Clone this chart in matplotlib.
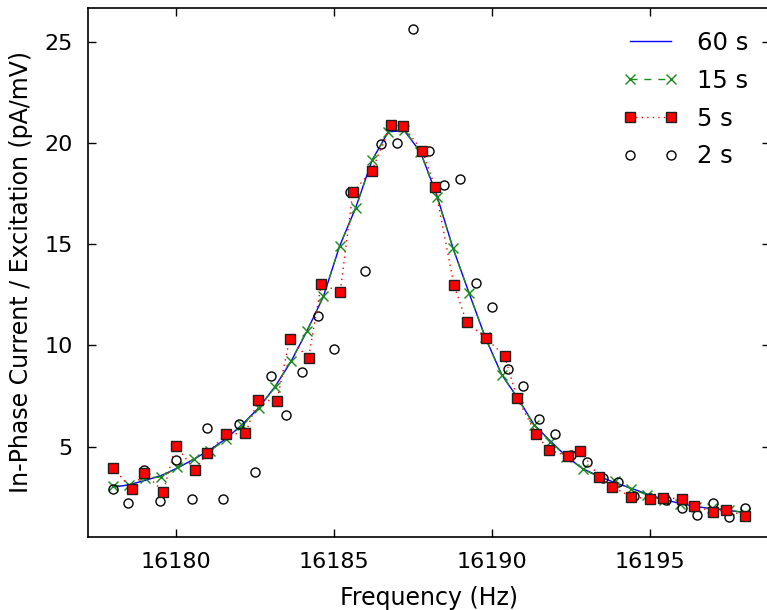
import matplotlib
matplotlib.use("Agg")
import matplotlib.pyplot as plt

# 60 s sweep (smooth line)
freq_60 = [16178.00, 16178.51, 16179.03, 16179.54, 16180.05, 16180.56, 16181.08, 16181.59,
           16182.10, 16182.62, 16183.13, 16183.64, 16184.15, 16184.67, 16185.18, 16185.69,
           16186.21, 16186.72, 16187.23, 16187.74, 16188.26, 16188.77, 16189.28, 16189.79,
           16190.31, 16190.82, 16191.33, 16191.85, 16192.36, 16192.87, 16193.38, 16193.90,
           16194.41, 16194.92, 16195.44, 16195.95, 16196.46, 16196.97, 16197.49, 16198.00]
current_60 = [3.00, 3.12, 3.34, 3.58, 3.95, 4.38, 4.85, 5.40,
              6.10, 6.92, 7.95, 9.20, 10.72, 12.42, 14.90, 16.80,
              19.15, 20.55, 20.60, 19.55, 17.40, 14.80, 12.58, 10.40,
              8.56, 7.40, 6.10, 5.28, 4.52, 3.92, 3.55, 3.22,
              2.95, 2.66, 2.40, 2.20, 2.05, 1.94, 1.85, 1.76]

# 15 s sweep
freq_15 = freq_60
current_15 = [3.06, 3.10, 3.47, 3.50, 4.00, 4.38, 4.80, 5.37,
              6.08, 6.90, 7.93, 9.22, 10.73, 12.42, 14.91, 16.77,
              19.15, 20.55, 20.65, 19.55, 17.34, 14.79, 12.58, 10.40,
              8.56, 7.40, 6.07, 5.25, 4.51, 3.92, 3.50, 3.30,
              2.92, 2.62, 2.35, 2.17, 2.05, 1.97, 1.90, 1.73]

# 5 s sweep
freq_5 = [16178.0, 16178.6, 16179.0, 16179.6, 16180.0, 16180.6, 16181.0, 16181.6,
          16182.2, 16182.6, 16183.2, 16183.6, 16184.2, 16184.6, 16185.2, 16185.6,
          16186.2, 16186.8, 16187.2, 16187.8, 16188.2, 16188.8, 16189.2, 16189.8,
          16190.4, 16190.8, 16191.4, 16191.8, 16192.4, 16192.8, 16193.4, 16193.8,
          16194.4, 16195.0, 16195.4, 16196.0, 16196.4, 16197.0, 16197.4, 16198.0]
current_5 = [3.96, 2.93, 3.72, 2.78, 5.05, 3.85, 4.70, 5.63,
             5.66, 7.30, 7.27, 10.32, 9.39, 13.02, 12.65, 17.57,
             18.62, 20.88, 20.83, 19.60, 17.83, 12.98, 11.15, 10.38,
             9.48, 7.39, 5.64, 4.84, 4.55, 4.79, 3.50, 3.03,
             2.54, 2.42, 2.48, 2.43, 2.09, 1.78, 1.89, 1.59]

# 2 s sweep
freq_2 = [16178.0, 16178.5, 16179.0, 16179.5, 16180.0, 16180.5, 16181.0, 16181.5,
          16182.0, 16182.5, 16183.0, 16183.5, 16184.0, 16184.5, 16185.0, 16185.5,
          16186.0, 16186.5, 16187.0, 16187.5, 16188.0, 16188.5, 16189.0, 16189.5,
          16190.0, 16190.5, 16191.0, 16191.5, 16192.0, 16192.5, 16193.0, 16193.5,
          16194.0, 16194.5, 16195.0, 16195.5, 16196.0, 16196.5, 16197.0, 16197.5,
          16198.0]
current_2 = [2.90, 2.24, 3.85, 2.33, 4.34, 2.42, 5.91, 2.42,
             6.11, 3.77, 8.47, 6.56, 8.70, 11.44, 9.82, 17.59,
             13.67, 19.94, 20.02, 25.62, 19.60, 17.92, 18.20, 13.07,
             11.90, 8.85, 7.98, 6.35, 5.63, 4.59, 4.26, 3.44,
             3.27, 2.58, 2.45, 2.37, 2.00, 1.63, 2.24, 1.52,
             1.99]

x_ticks = [16180, 16185, 16190, 16195]
y_ticks = [5, 10, 15, 20, 25]

fig = plt.figure(figsize=(7.67, 6.10), dpi=100)
ax = fig.add_axes([88 / 767, 73.3 / 610, 682 / 767, 528.7 / 610])

ax.plot(freq_60, current_60, color="#0000ff", linewidth=1.0, label="60 s", zorder=3)
ax.plot(freq_15, current_15, color="#1a8a1a", linestyle=(0, (5, 5)), linewidth=1.0,
        marker="x", markersize=7, markeredgewidth=1.0, label="15 s", zorder=4)
ax.plot(freq_2, current_2, linestyle="none", marker="o", markersize=6.5,
        markerfacecolor="none", markeredgecolor="black", markeredgewidth=1.0,
        label="2 s", zorder=5)
ax.plot(freq_5, current_5, color="#ff0000", linestyle=(0, (1, 3)), linewidth=1.0,
        marker="s", markersize=7.5, markerfacecolor="#ff0000",
        markeredgecolor="#202020", markeredgewidth=1.0, label="5 s", zorder=6)

ax.set_xlim(16177.22, 16198.80)
ax.set_ylim(0.56, 26.66)
ax.set_xticks(x_ticks)
ax.set_yticks(y_ticks)
ax.tick_params(direction="in", length=6, width=1.0, labelsize=16,
               top=True, right=True, pad=11)
ax.tick_params(axis="x", pad=11)
for spine in ax.spines.values():
    spine.set_linewidth(1.2)

ax.set_xlabel("Frequency (Hz)", fontsize=17, labelpad=10)
ax.set_ylabel("In-Phase Current / Excitation (pA/mV)", fontsize=17, labelpad=8)

handles, labels = ax.get_legend_handles_labels()
order = [0, 1, 3, 2]
ax.legend([handles[i] for i in order], [labels[i] for i in order],
          loc="upper right", bbox_to_anchor=(1.0, 0.998), frameon=False,
          fontsize=17.5, numpoints=2, handlelength=2.3, handletextpad=0.75,
          labelspacing=0.57)

fig.savefig("out.png", dpi=100)
